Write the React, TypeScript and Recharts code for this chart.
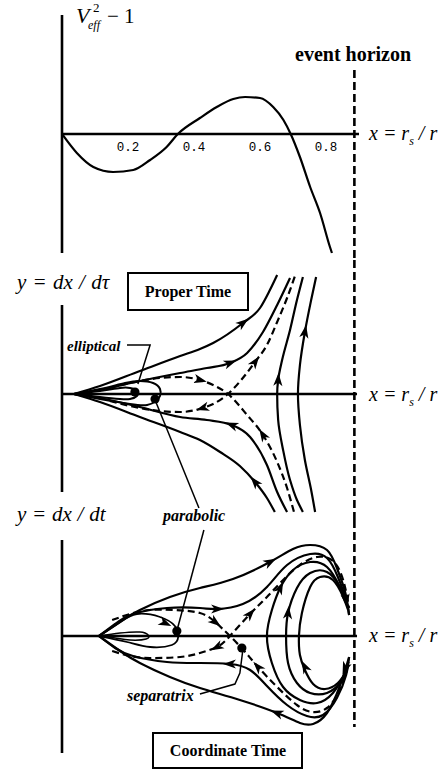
import React from 'react';
import { ComposedChart, Line, Scatter, XAxis, YAxis, ReferenceLine } from 'recharts';

type Pair = [number, number];
type ArrowSpec = [number, number, number]; // x, y, heading in screen degrees

// ---------- shared axis data ----------
const TICKS = [0.2, 0.4, 0.6, 0.8];
const HORIZON_X = 0.886;
const AXIS_END_X = 0.9;

// ---------- effective potential  V_eff^2 - 1  vs  x = r_s / r ----------
const V_EFF: Pair[] = [
  [0, 0], [0.045, -0.19], [0.095, -0.33], [0.155, -0.38], [0.216, -0.36], [0.267, -0.26],
  [0.317, -0.13], [0.351, 0], [0.418, 0.16], [0.469, 0.27], [0.519, 0.35], [0.555, 0.37],
  [0.6, 0.36], [0.64, 0.27], [0.671, 0.14], [0.693, 0], [0.721, -0.23], [0.752, -0.53],
  [0.782, -0.79], [0.812, -1.13], [0.818, -1.19],
];

// ---------- phase portrait, proper time  y = dx/dtau ----------
const PT_OUTER_UP: Pair[] = [
  [0.036, 0], [0.115, 0.08], [0.236, 0.23], [0.358, 0.38], [0.418, 0.45], [0.458, 0.51],
  [0.548, 0.71], [0.6, 0.86], [0.63, 1.04], [0.652, 1.19],
];
const PT_INNER_UP: Pair[] = [
  [0.036, 0], [0.115, 0.04], [0.236, 0.13], [0.358, 0.21], [0.439, 0.26], [0.509, 0.31],
  [0.561, 0.41], [0.609, 0.62], [0.652, 0.89], [0.691, 1.16],
];
const PT_OUTER_DOWN: Pair[] = [
  [0.036, 0], [0.115, -0.08], [0.236, -0.23], [0.358, -0.38], [0.418, -0.46], [0.479, -0.58],
  [0.539, -0.72], [0.585, -0.88], [0.621, -1.04], [0.645, -1.18],
];
const PT_INNER_DOWN: Pair[] = [
  [0.036, 0], [0.115, -0.04], [0.236, -0.13], [0.358, -0.23], [0.439, -0.26], [0.515, -0.31],
  [0.57, -0.43], [0.621, -0.71], [0.652, -0.98], [0.682, -1.18],
];
const PT_SEP_A: Pair[] = [
  [0.145, 0.06], [0.236, 0.13], [0.297, 0.16], [0.358, 0.17], [0.418, 0.14], [0.458, 0.09],
  [0.503, 0], [0.561, -0.21], [0.609, -0.41], [0.652, -0.68], [0.682, -0.94], [0.703, -1.18],
];
const PT_SEP_B: Pair[] = [
  [0.145, -0.07], [0.236, -0.14], [0.297, -0.17], [0.358, -0.18], [0.427, -0.14], [0.458, -0.1],
  [0.503, 0], [0.548, 0.16], [0.585, 0.32], [0.621, 0.49], [0.652, 0.72], [0.682, 0.96], [0.706, 1.18],
];
const PT_CAPTURE_1: Pair[] = [
  [0.73, 1.17], [0.712, 0.94], [0.691, 0.64], [0.667, 0.34], [0.655, 0.14], [0.652, 0],
  [0.655, -0.26], [0.67, -0.56], [0.691, -0.86], [0.712, -1.06], [0.73, -1.18],
];
const PT_CAPTURE_2: Pair[] = [
  [0.77, 1.17], [0.755, 0.94], [0.736, 0.62], [0.721, 0.29], [0.715, 0], [0.721, -0.31],
  [0.736, -0.66], [0.755, -0.96], [0.767, -1.18],
];
const PT_ELLIPTICAL: Pair[] = [
  [0.036, 0], [0.115, 0.03], [0.176, 0.06], [0.206, 0.06], [0.227, 0.03], [0.227, -0.02],
  [0.206, -0.05], [0.176, -0.05], [0.115, -0.03], [0.036, 0],
];
const PT_PARABOLIC: Pair[] = [
  [0.036, 0], [0.115, 0.05], [0.191, 0.11], [0.236, 0.13], [0.276, 0.11], [0.297, 0.05],
  [0.297, -0.02], [0.285, -0.07], [0.258, -0.11], [0.206, -0.1], [0.115, -0.05], [0.036, 0],
];
const PT_DOTS: Pair[] = [[0.221, 0.02], [0.282, -0.05]];
const PT_ARROWS: ArrowSpec[] = [
  [0.548, 0.71, -37], [0.509, 0.31, -20], [0.418, 0.14, 14], [0.585, 0.32, -54],
  [0.427, -0.14, 163], [0.609, -0.41, -122], [0.515, -0.31, -158], [0.585, -0.88, -130],
  [0.655, 0.14, -87], [0.736, 0.62, -80],
];
const PT_ELLIPTICAL_LEADER: Pair[] = [[0.197, 0.49], [0.267, 0.49], [0.23, 0.1]];
const PT_PARABOLIC_LEADER: Pair[] = [[0.282, -0.06], [0.415, -1.14]];

// ---------- phase portrait, coordinate time  y = dx/dt ----------
const CT_OUTER_UP: Pair[] = [
  [0.112, 0], [0.176, 0.14], [0.236, 0.26], [0.327, 0.39], [0.418, 0.48], [0.518, 0.57],
  [0.63, 0.74], [0.7, 0.87], [0.752, 0.91], [0.803, 0.86], [0.833, 0.68], [0.858, 0.44], [0.87, 0.21],
];
const CT_OUTER_DOWN: Pair[] = [
  [0.112, 0], [0.176, -0.15], [0.236, -0.27], [0.327, -0.41], [0.418, -0.52], [0.539, -0.64],
  [0.652, -0.77], [0.721, -0.87], [0.761, -0.88], [0.803, -0.77], [0.842, -0.5], [0.87, -0.21],
];
const CT_INNER_UP: Pair[] = [
  [0.112, 0], [0.161, 0.12], [0.215, 0.22], [0.318, 0.28], [0.418, 0.28], [0.47, 0.27],
  [0.548, 0.32], [0.621, 0.49], [0.682, 0.71], [0.752, 0.82], [0.803, 0.78], [0.836, 0.59],
  [0.861, 0.36], [0.87, 0.21],
];
const CT_INNER_DOWN: Pair[] = [
  [0.112, 0], [0.161, -0.12], [0.215, -0.2], [0.318, -0.26], [0.418, -0.27], [0.509, -0.28],
  [0.57, -0.34], [0.621, -0.5], [0.682, -0.69], [0.742, -0.8], [0.791, -0.79], [0.833, -0.62],
  [0.861, -0.39], [0.87, -0.21],
];
const CT_SEP_A: Pair[] = [
  [0.152, 0.16], [0.206, 0.22], [0.267, 0.26], [0.342, 0.26], [0.418, 0.23], [0.464, 0.14],
  [0.509, 0], [0.555, -0.16], [0.594, -0.31], [0.652, -0.51], [0.712, -0.69], [0.758, -0.76],
  [0.803, -0.72], [0.842, -0.54], [0.87, -0.26],
];
const CT_SEP_B: Pair[] = [
  [0.152, -0.15], [0.206, -0.2], [0.267, -0.22], [0.358, -0.21], [0.418, -0.17], [0.47, -0.11],
  [0.509, 0], [0.57, 0.22], [0.621, 0.39], [0.67, 0.56], [0.721, 0.71], [0.773, 0.79],
  [0.821, 0.75], [0.852, 0.56], [0.87, 0.28],
];
const CT_LOOP_1: Pair[] = [
  [0.861, -0.36], [0.821, -0.57], [0.773, -0.67], [0.721, -0.64], [0.67, -0.51], [0.636, -0.27],
  [0.621, 0], [0.636, 0.26], [0.661, 0.48], [0.7, 0.66], [0.752, 0.74], [0.803, 0.69],
  [0.842, 0.49], [0.867, 0.29],
];
const CT_LOOP_2: Pair[] = [
  [0.864, -0.34], [0.842, -0.47], [0.803, -0.57], [0.752, -0.57], [0.712, -0.47], [0.685, -0.27],
  [0.679, 0], [0.685, 0.23], [0.712, 0.48], [0.752, 0.63], [0.803, 0.64], [0.842, 0.49], [0.864, 0.31],
];
const CT_LOOP_3: Pair[] = [
  [0.864, -0.34], [0.836, -0.47], [0.797, -0.53], [0.761, -0.48], [0.736, -0.34], [0.721, -0.19],
  [0.718, 0], [0.727, 0.23], [0.752, 0.49], [0.782, 0.59], [0.821, 0.56], [0.852, 0.39], [0.867, 0.26],
];
const CT_PARABOLIC: Pair[] = [
  [0.112, 0], [0.176, 0.14], [0.227, 0.22], [0.297, 0.19], [0.342, 0.1], [0.352, -0.01],
  [0.333, -0.09], [0.267, -0.11], [0.197, -0.06], [0.112, 0],
];
const CT_ELLIPTICAL: Pair[] = [
  [0.112, 0], [0.176, 0.03], [0.236, 0.04], [0.261, 0.01], [0.255, -0.03], [0.206, -0.04],
  [0.161, -0.02], [0.112, 0],
];
const CT_DOTS: Pair[] = [[0.348, 0.05], [0.545, -0.12]];
const CT_ARROWS: ArrowSpec[] = [
  [0.63, 0.74, -28], [0.861, 0.36, 80], [0.858, -0.32, 112], [0.652, -0.77, -159],
  [0.47, 0.27, 0], [0.509, -0.28, 180], [0.464, 0.14, 37], [0.47, -0.11, 153],
  [0.57, 0.22, -49], [0.594, -0.31, -132], [0.661, 0.48, -65], [0.685, 0.23, -85],
  [0.736, -0.31, -117], [0.312, 0.13, 25],
];
const CT_PARABOLIC_LEADER: Pair[] = [[0.43, 1.06], [0.348, 0.05]];
const CT_SEPARATRIX_LEADER: Pair[] = [[0.548, -0.14], [0.539, -0.37], [0.524, -0.48], [0.418, -0.58]];

// ---------- helpers ----------
const toPts = (pairs: Pair[]) => pairs.map(([x, y]) => ({ x, y }));
const toArrows = (list: ArrowSpec[]) => list.map(([x, y, angle]) => ({ x, y, angle }));

const INK = '#000';
const MARGIN = { top: 0, right: 56, bottom: 0, left: 62 };
const SERIF = '"Liberation Serif", "Times New Roman", serif';

const curve = (key: string, pts: Pair[], opts: { dashed?: boolean; type?: any; width?: number } = {}) => (
  <Line
    key={key}
    data={toPts(pts)}
    dataKey="y"
    type={opts.type ?? 'natural'}
    stroke={INK}
    strokeWidth={opts.width ?? 2.2}
    strokeDasharray={opts.dashed ? '7 4' : undefined}
    dot={false}
    activeDot={false}
    isAnimationActive={false}
  />
);

const ArrowShape = (props: any) => {
  const { cx, cy, payload } = props;
  if (cx == null || cy == null) return null;
  return (
    <path
      d="M7,0 L-6,-4.6 L-2.5,0 L-6,4.6 Z"
      transform={`translate(${cx},${cy}) rotate(${payload.angle})`}
      fill={INK}
    />
  );
};

const DotShape = (props: any) => {
  const { cx, cy } = props;
  if (cx == null || cy == null) return null;
  return <circle cx={cx} cy={cy} r={4.6} fill={INK} />;
};

const TickShape = (props: any) => {
  const { cx, cy, payload } = props;
  if (cx == null || cy == null) return null;
  return (
    <text x={cx} y={cy + 17} textAnchor="middle" fontFamily='"Liberation Mono", monospace' fontSize={12.5} fill={INK}>
      {payload.label}
    </text>
  );
};

const arrows = (key: string, list: ArrowSpec[]) => (
  <Scatter key={key} data={toArrows(list)} shape={ArrowShape} isAnimationActive={false} />
);
const dots = (key: string, list: Pair[]) => (
  <Scatter key={key} data={toPts(list)} shape={DotShape} isAnimationActive={false} />
);
const seg = (key: string, a: Pair, b: Pair, width = 2.5, dash?: string) => (
  <ReferenceLine
    key={key}
    segment={[{ x: a[0], y: a[1] }, { x: b[0], y: b[1] }]}
    stroke={INK}
    strokeWidth={width}
    strokeDasharray={dash}
    ifOverflow="visible"
  />
);

function Panel(props: { top: number; height: number; yDomain: [number, number]; children: React.ReactNode }) {
  return (
    <div style={{ position: 'absolute', left: 0, top: props.top }}>
      <ComposedChart width={448} height={props.height} margin={MARGIN}>
        <XAxis type="number" dataKey="x" domain={[0, 1]} allowDataOverflow hide />
        <YAxis type="number" dataKey="y" domain={props.yDomain} allowDataOverflow hide />
        {props.children}
      </ComposedChart>
    </div>
  );
}

const HORIZON_DASH = '8 4';

export default function App() {
  const tickData = TICKS.map((v) => ({ x: v, y: 0, label: v.toFixed(1) }));
  return (
    <div style={{ position: 'absolute', left: 0, top: 0, width: 448, height: 770, background: '#fff', overflow: 'hidden' }}>
      {/* potential curve */}
      <Panel top={10} height={250} yDomain={[-1.26, 1.24]}>
        {[
          seg('vaxis', [0, 1.19], [0, -1.19], 2.6),
          seg('haxis', [0, 0], [AXIS_END_X, 0], 2.3),
          seg('horizon', [HORIZON_X, 0.64], [HORIZON_X, -1.26], 2.6, HORIZON_DASH),
          curve('veff', V_EFF, { type: 'monotone' }),
          <Scatter key="ticks" data={tickData} shape={TickShape} isAnimationActive={false} />,
        ]}
      </Panel>

      {/* proper-time phase portrait */}
      <Panel top={260} height={260} yDomain={[-1.26, 1.34]}>
        {[
          seg('vaxis', [0, 0.89], [0, -0.98], 2.6),
          seg('haxis', [0, 0], [0.894, 0], 2.3),
          seg('horizon', [HORIZON_X, 1.34], [HORIZON_X, -1.26], 2.6, HORIZON_DASH),
          curve('o-up', PT_OUTER_UP, { type: 'monotone' }),
          curve('i-up', PT_INNER_UP, { type: 'monotone' }),
          curve('o-dn', PT_OUTER_DOWN, { type: 'monotone' }),
          curve('i-dn', PT_INNER_DOWN, { type: 'monotone' }),
          curve('sep-a', PT_SEP_A, { dashed: true, type: 'monotone' }),
          curve('sep-b', PT_SEP_B, { dashed: true, type: 'monotone' }),
          curve('cap-1', PT_CAPTURE_1, { type: 'monotoneY' }),
          curve('cap-2', PT_CAPTURE_2, { type: 'monotoneY' }),
          curve('ell', PT_ELLIPTICAL, { width: 2 }),
          curve('par', PT_PARABOLIC, { width: 2 }),
          curve('ell-lead', PT_ELLIPTICAL_LEADER, { type: 'linear', width: 1.5 }),
          curve('par-lead', PT_PARABOLIC_LEADER, { type: 'linear', width: 1.5 }),
          dots('dots', PT_DOTS),
          arrows('arrows', PT_ARROWS),
        ]}
      </Panel>

      {/* coordinate-time phase portrait */}
      <Panel top={520} height={250} yDomain={[-1.34, 1.16]}>
        {[
          seg('vaxis', [0, 0.96], [0, -1.17], 2.6),
          seg('haxis', [0, 0], [0.894, 0], 2.3),
          seg('horizon', [HORIZON_X, 1.16], [HORIZON_X, -0.91], 2.6, HORIZON_DASH),
          curve('o-up', CT_OUTER_UP),
          curve('o-dn', CT_OUTER_DOWN),
          curve('i-up', CT_INNER_UP),
          curve('i-dn', CT_INNER_DOWN),
          curve('sep-a', CT_SEP_A, { dashed: true }),
          curve('sep-b', CT_SEP_B, { dashed: true }),
          curve('loop-1', CT_LOOP_1),
          curve('loop-2', CT_LOOP_2),
          curve('loop-3', CT_LOOP_3),
          curve('par', CT_PARABOLIC, { width: 1.8 }),
          curve('ell', CT_ELLIPTICAL, { width: 1.5 }),
          curve('par-lead', CT_PARABOLIC_LEADER, { type: 'linear', width: 1.5 }),
          curve('sep-lead', CT_SEPARATRIX_LEADER, { type: 'linear', width: 1.5 }),
          dots('dots', CT_DOTS),
          arrows('arrows', CT_ARROWS),
        ]}
      </Panel>

      {/* titles, axis names and annotations */}
      <svg width={448} height={770} style={{ position: 'absolute', left: 0, top: 0, pointerEvents: 'none' }} fontFamily={SERIF} fill={INK}>
        <text x={76} y={23} fontSize={22} fontStyle="italic">
          V
          <tspan x={88} dy={6} fontSize={12}>eff</tspan>
          <tspan x={93} dy={-17} fontSize={13} fontStyle="normal">2</tspan>
          <tspan x={107} dy={11} fontSize={21} fontStyle="normal">− 1</tspan>
        </text>

        <text x={295} y={61} fontSize={20} fontWeight="bold">event horizon</text>

        {[140, 401, 642].map((y) => (
          <text key={y} x={369} y={y} fontSize={20} fontStyle="italic">
            x = r<tspan fontSize={12} dy={5}>s</tspan><tspan dy={-5}> / r</tspan>
          </text>
        ))}

        <text x={17} y={289} fontSize={21} fontStyle="italic" wordSpacing={1}>y = dx / dτ</text>
        <text x={17} y={521} fontSize={21} fontStyle="italic" wordSpacing={0.5}>y = dx / dt</text>

        <rect x={128} y={273} width={120} height={37} fill="none" stroke={INK} strokeWidth={2} />
        <text x={188} y={297} fontSize={16} fontWeight="bold" textAnchor="middle">Proper Time</text>

        <rect x={153} y={733} width={149} height={35} fill="none" stroke={INK} strokeWidth={2} />
        <text x={228} y={756} fontSize={16} fontWeight="bold" textAnchor="middle">Coordinate Time</text>

        <text x={67} y={351} fontSize={15} fontWeight="bold" fontStyle="italic">elliptical</text>
        <text x={163} y={521} fontSize={16} fontWeight="bold" fontStyle="italic">parabolic</text>
        <text x={127} y={701} fontSize={16} fontWeight="bold" fontStyle="italic">separatrix</text>
      </svg>
    </div>
  );
}
